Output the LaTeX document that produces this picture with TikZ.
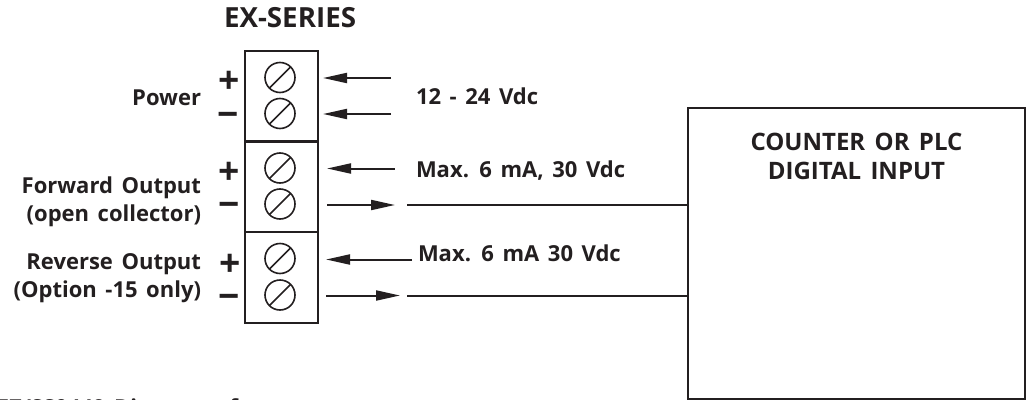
\documentclass[tikz,border=0pt]{standalone}
\usepackage{fontspec}
\setmainfont{Open Sans}[BoldFont={Open Sans Bold},BoldFeatures={WordSpace=1.5}]
\usetikzlibrary{arrows.meta}
\definecolor{ink}{HTML}{231F20}
\tikzset{
  x=0.75pt,y=-0.75pt,
  lab/.style={inner sep=0pt,outer sep=0pt,text=ink,font=\bfseries\fontsize{16.5pt}{20pt}\selectfont},
  labr/.style={lab,anchor=base east},
  labl/.style={lab,anchor=base west},
  labc/.style={lab,anchor=base,font=\bfseries\fontsize{18pt}{22pt}\selectfont},
  sign/.style={inner sep=0pt,outer sep=0pt,text=ink,anchor=center,font=\bfseries\fontsize{28pt}{30pt}\selectfont},
  termbox/.style={draw=ink,line width=1.6pt,minimum width=54.75pt,minimum height=68.25pt,inner sep=0pt,outer sep=0pt,anchor=north west},
  screw/.style={draw=ink,circle,line width=1.2pt,minimum size=22.5pt,inner sep=0pt,outer sep=0pt},
  wire/.style={draw=ink,line width=1.5pt},
  arr/.style={wire,-{Triangle[length=18pt,width=7.5pt]}},
}
\newcommand{\slashed}[3]{\node[screw] (#1) at (#2,#3) {}; \draw[ink,line width=1.2pt] (#1.225) -- (#1.45);}
\begin{document}
\begin{tikzpicture}
\useasboundingbox (0,0) rectangle (1029,400);
\clip (0,0) rectangle (1029,400);
\node[labl,font=\bfseries\fontsize{20.8pt}{24pt}\selectfont] (title) at (224,27) {EX-SERIES};
\node[termbox] (t1) at (245,51) {};
\node[termbox] (t2) at (245,141) {};
\node[termbox] (t3) at (245,232) {};
\slashed{s1}{280}{77.5}
\slashed{s2}{280}{113.5}
\slashed{s3}{280}{168}
\slashed{s4}{280}{204}
\slashed{s5}{280}{258.5}
\slashed{s6}{280}{295}
\node[sign] (p1) at (229,82) {+};
\node[sign] (m1) at (228,119.5) {−};
\node[sign] (p2) at (229,173) {+};
\node[sign] (m2) at (229.5,210) {−};
\node[sign] (p3) at (230,265) {+};
\node[sign] (m3) at (229.5,302) {−};
\node[labr] (power) at (201,105) {Power};
\node[labr] (fwd) at (201,193) {Forward Output};
\node[labr] (fwdb) at (201,221.5) {(open collector)};
\node[labr] (rev) at (201,269) {Reverse Output};
\node[labr] (revb) at (201,297.5) {(Option -15 only)};
\node[labl] (v1) at (416,104) {12 - 24 Vdc};
\node[labl] (v2) at (416,177) {Max. 6 mA, 30 Vdc};
\node[labl] (v3) at (418,261) {Max. 6 mA 30 Vdc};
\node[draw=ink,line width=1.9pt,minimum width=252.75pt,minimum height=218.5pt,inner sep=0pt,outer sep=0pt,anchor=north west] (plc) at (688,108) {};
\node[labc] (plct) at (856.5,150) {COUNTER OR PLC};
\node[labc] (plcb) at (856.5,179) {DIGITAL INPUT};
\node[labl] (cap) at (-3,415) {E7/SS0449 Diagram of};
\coordinate (a1) at (391,78); \coordinate (a1t) at (323,78);
\coordinate (a2) at (391,114); \coordinate (a2t) at (323,114);
\coordinate (a3) at (394.5,168.5); \coordinate (a3t) at (327,168.5);
\coordinate (a4) at (327,205); \coordinate (a4t) at (395,205);
\coordinate (a5) at (412,259.5); \coordinate (a5t) at (326,259.5);
\coordinate (a6) at (326,295.5); \coordinate (a6t) at (400,295.5);
\coordinate (w4) at (407,205); \coordinate (w6) at (407,295.5);
\draw[arr] (a1) -- (a1t);
\draw[arr] (a2) -- (a2t);
\draw[arr] (a3) -- (a3t);
\draw[arr] (a4) -- (a4t);
\draw[arr] (a5) -- (a5t);
\draw[arr] (a6) -- (a6t);
\draw[wire] (w4) -- (w4 -| plc.west);
\draw[wire] (w6) -- (w6 -| plc.west);
\end{tikzpicture}
\end{document}
